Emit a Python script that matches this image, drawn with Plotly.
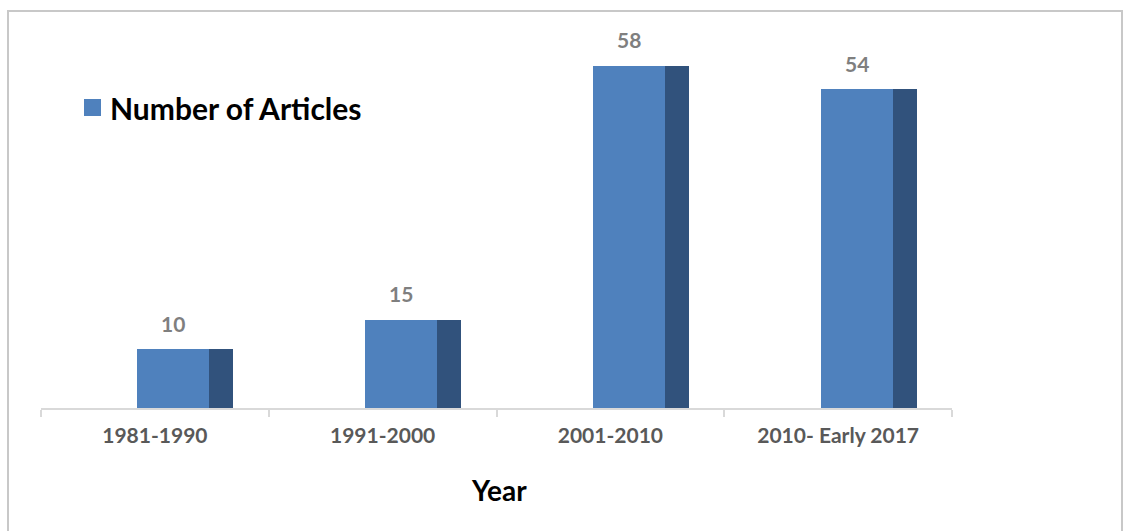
import plotly.graph_objects as go

# Publication counts per period
periods = ["1981-1990", "1991-2000", "2001-2010", "2010- Early 2017"]
articles = [10, 15, 58, 54]
series_name = "Number of Articles"
axis_title = "Year"

FRONT = "#4F81BD"
SIDE = "#31527C"

W, H = 1125, 531
L, R, T, B = 41, 1125 - 952, 11, 531 - 408
plot_w = W - L - R
plot_h = H - T - B
px_per_unit = 5.9
y_max = plot_h / px_per_unit

# pseudo-3D column: front face plus darker side face (category units)
cat_px = plot_w / len(periods)
front_off = -17.5 / cat_px
front_w = 72 / cat_px
side_off = 54.5 / cat_px
side_w = 24 / cat_px

fig = go.Figure()
fig.add_trace(go.Bar(
    x=periods, y=articles, name=series_name,
    marker=dict(color=FRONT, line=dict(width=0)),
    offset=front_off, width=front_w, showlegend=False,
))
fig.add_trace(go.Bar(
    x=periods, y=articles, name=series_name,
    marker=dict(color=SIDE, line=dict(width=0)),
    offset=side_off, width=side_w, showlegend=False,
))

# value labels above each column's front face
for i, v in enumerate(articles):
    fig.add_annotation(
        x=i + front_off + front_w / 2, y=v, xref="x", yref="y",
        text=f"<b>{v}</b>", showarrow=False, yanchor="middle", yshift=26,
        font=dict(family="Lato", size=21, color="#7F7F7F"),
    )

def px_x(p):
    return (p - L) / plot_w

def px_y(p):
    return (T + plot_h - p) / plot_h

# legend swatch and label
fig.add_shape(type="rect", xref="paper", yref="paper",
              x0=px_x(84), x1=px_x(101), y0=px_y(116), y1=px_y(99),
              fillcolor=FRONT, line=dict(width=0))
fig.add_annotation(
    x=px_x(108), y=px_y(108), xref="paper", yref="paper",
    text=f"<b>{series_name}</b>", showarrow=False, xanchor="left", yanchor="middle",
    font=dict(family="Lato", size=30, color="#000000"),
)

# axis title
fig.add_annotation(
    x=px_x(499), y=px_y(490), xref="paper", yref="paper",
    text=f"<b>{axis_title}</b>", showarrow=False, xanchor="center", yanchor="middle",
    font=dict(family="Lato", size=28, color="#000000"),
)

# chart border
fig.add_shape(type="rect", xref="paper", yref="paper",
              x0=px_x(8), x1=px_x(1122), y0=px_y(560), y1=px_y(11),
              line=dict(color="#C8C8C8", width=2), fillcolor="rgba(0,0,0,0)")

fig.update_layout(
    width=W, height=H,
    margin=dict(l=L, r=R, t=T, b=B),
    paper_bgcolor="white", plot_bgcolor="white",
    barmode="overlay", bargap=0,
    xaxis=dict(
        type="category", range=[-0.5, len(periods) - 0.5],
        tickson="boundaries", ticks="outside", ticklen=7, tickwidth=2,
        tickcolor="#D9D9D9", showline=True, linecolor="#D9D9D9", linewidth=2,
        showgrid=False, zeroline=False, ticklabelstandoff=8,
        tickfont=dict(family="Lato", size=21, color="#595959", weight="bold"),
    ),
    yaxis=dict(range=[0, y_max], visible=False, showgrid=False, zeroline=False),
    showlegend=False,
)

fig.write_html("out.html")
